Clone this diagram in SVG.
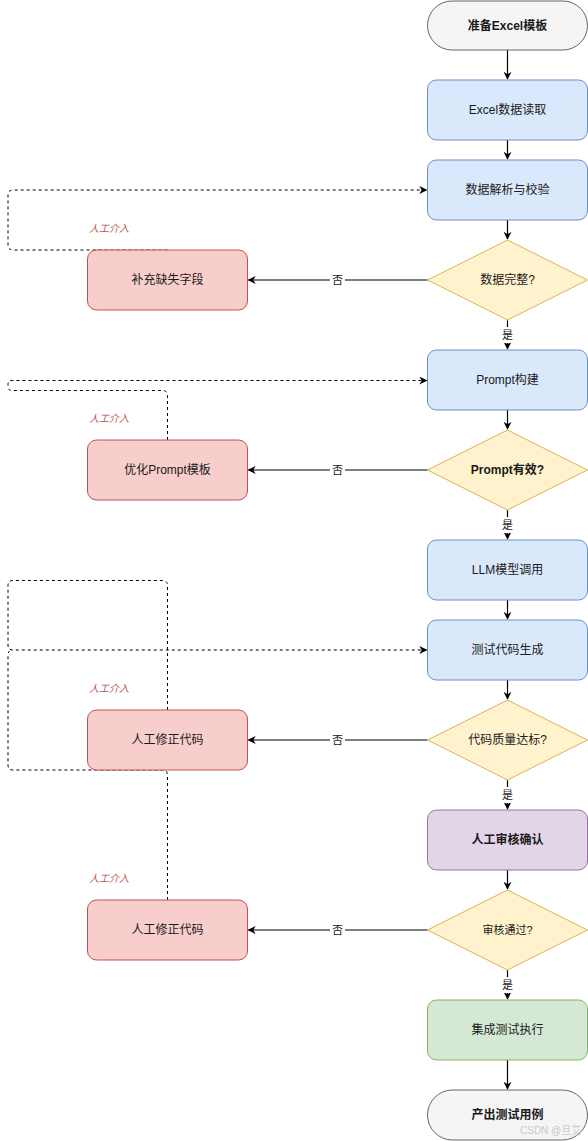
<svg xmlns="http://www.w3.org/2000/svg" width="588" height="1141" viewBox="0 0 588 1141">
<defs>
<marker id="arr" viewBox="0 0 10 10" refX="9" refY="5" markerWidth="8" markerHeight="8" markerUnits="userSpaceOnUse" orient="auto">
<path d="M0,0 L10,5 L0,10 L3,5 Z" fill="#000"/>
</marker>
<style>
text{font-family:"Liberation Sans","Noto Sans CJK SC",sans-serif;font-size:12px;fill:#1a1a1a;text-anchor:middle;dominant-baseline:central}
.b{font-weight:bold}
.term{fill:#f5f5f5;stroke:#666666}
.blue{fill:#dae8fc;stroke:#6c8ebf}
.yel{fill:#fff2cc;stroke:#d6b656}
.red{fill:#f8cecc;stroke:#b85450}
.pur{fill:#e1d5e7;stroke:#9673a6}
.grn{fill:#d5e8d4;stroke:#82b366}
.e{fill:none;stroke:#000;stroke-width:1.2}
.d{fill:none;stroke:#000;stroke-width:1;stroke-dasharray:3 3}
.lbl{font-size:11px}
.hi{font-size:10px;font-style:italic;fill:#b85450;text-anchor:start}
.wm{font-size:10px;fill:#c8c8c8;text-anchor:start}
</style>
</defs>
<rect width="588" height="1141" fill="#ffffff"/>

<g id="connectors">
<path class="e" d="M507.5,50 L507.5,79" marker-end="url(#arr)"/>
<path class="e" d="M507.5,140 L507.5,159" marker-end="url(#arr)"/>
<path class="e" d="M507.5,220 L507.5,239" marker-end="url(#arr)"/>
<path class="e" d="M507.5,320 L507.5,349" marker-end="url(#arr)"/>
<path class="e" d="M427.5,280 L248.5,280" marker-end="url(#arr)"/>
<path class="e" d="M507.5,410 L507.5,429" marker-end="url(#arr)"/>
<path class="e" d="M507.5,510 L507.5,539" marker-end="url(#arr)"/>
<path class="e" d="M427.5,470 L248.5,470" marker-end="url(#arr)"/>
<path class="e" d="M507.5,600 L507.5,619" marker-end="url(#arr)"/>
<path class="e" d="M507.5,680 L507.5,699" marker-end="url(#arr)"/>
<path class="e" d="M507.5,780 L507.5,809" marker-end="url(#arr)"/>
<path class="e" d="M427.5,740 L248.5,740" marker-end="url(#arr)"/>
<path class="e" d="M507.5,870 L507.5,889" marker-end="url(#arr)"/>
<path class="e" d="M507.5,970 L507.5,999" marker-end="url(#arr)"/>
<path class="e" d="M427.5,930 L248.5,930" marker-end="url(#arr)"/>
<path class="e" d="M507.5,1060 L507.5,1089" marker-end="url(#arr)"/>

<path class="d" d="M167.5,250 L13,250 Q8,250 8,245 L8,195 Q8,190 13,190 L426.5,190" marker-end="url(#arr)"/>
<path class="d" d="M167.5,440 L167.5,395.5 Q167.5,390.5 162.5,390.5 L12,390.5 Q8,390.5 8,386.5 L8,384.5 Q8,380.5 12,380.5 L426.5,380.5" marker-end="url(#arr)"/>
<path class="d" d="M167.5,710 L167.5,585.5 Q167.5,580.5 162.5,580.5 L13,580.5 Q8,580.5 8,585.5 L8,645 Q8,650 13,650 L426.5,650" marker-end="url(#arr)"/>
<path class="d" d="M167.5,900 L167.5,775 Q167.5,770 162.5,770 L13,770 Q8,770 8,765 L8,655 Q8,650 13,650"/>

<rect x="500" y="327" width="15" height="16" fill="#fff"/>
<text class="lbl" x="507.5" y="335">是</text>
<rect x="330" y="272" width="15" height="16" fill="#fff"/>
<text class="lbl" x="337.5" y="280">否</text>
<rect x="500" y="517" width="15" height="16" fill="#fff"/>
<text class="lbl" x="507.5" y="525">是</text>
<rect x="330" y="462" width="15" height="16" fill="#fff"/>
<text class="lbl" x="337.5" y="470">否</text>
<rect x="500" y="787" width="15" height="16" fill="#fff"/>
<text class="lbl" x="507.5" y="795">是</text>
<rect x="330" y="732" width="15" height="16" fill="#fff"/>
<text class="lbl" x="337.5" y="740">否</text>
<rect x="500" y="977" width="15" height="16" fill="#fff"/>
<text class="lbl" x="507.5" y="985">是</text>
<rect x="330" y="922" width="15" height="16" fill="#fff"/>
<text class="lbl" x="337.5" y="930">否</text>

<text class="hi" x="89" y="228">人工介入</text>
<text class="hi" x="89" y="418">人工介入</text>
<text class="hi" x="89" y="688">人工介入</text>
<text class="hi" x="89" y="878">人工介入</text>
</g>

<g id="start"><rect class="term" x="427.5" y="1" width="160" height="49" rx="24.5"/><text class="b" x="507.5" y="25.5">准备Excel模板</text></g>
<g id="read"><rect class="blue" x="427.5" y="80" width="160" height="60" rx="9"/><text x="507.5" y="110">Excel数据读取</text></g>
<g id="parse"><rect class="blue" x="427.5" y="160" width="160" height="60" rx="9"/><text x="507.5" y="190">数据解析与校验</text></g>
<g id="complete"><path class="yel" d="M507.5,240 L587.5,280 L507.5,320 L427.5,280 Z"/><text x="507.5" y="280">数据完整?</text></g>
<g id="fill"><rect class="red" x="87.5" y="250" width="160" height="60" rx="9"/><text x="167.5" y="280">补充缺失字段</text></g>
<g id="prompt"><rect class="blue" x="427.5" y="350" width="160" height="60" rx="9"/><text x="507.5" y="380">Prompt构建</text></g>
<g id="valid"><path class="yel" d="M507.5,430 L587.5,470 L507.5,510 L427.5,470 Z"/><text class="b" x="507.5" y="470">Prompt有效?</text></g>
<g id="optimize"><rect class="red" x="87.5" y="440" width="160" height="60" rx="9"/><text x="167.5" y="470">优化Prompt模板</text></g>
<g id="llm"><rect class="blue" x="427.5" y="540" width="160" height="60" rx="9"/><text x="507.5" y="570">LLM模型调用</text></g>
<g id="gen"><rect class="blue" x="427.5" y="620" width="160" height="60" rx="9"/><text x="507.5" y="650">测试代码生成</text></g>
<g id="quality"><path class="yel" d="M507.5,700 L587.5,740 L507.5,780 L427.5,740 Z"/><text x="507.5" y="740">代码质量达标?</text></g>
<g id="fix1"><rect class="red" x="87.5" y="710" width="160" height="60" rx="9"/><text x="167.5" y="740">人工修正代码</text></g>
<g id="review"><rect class="pur" x="427.5" y="810" width="160" height="60" rx="9"/><text class="b" x="507.5" y="840">人工审核确认</text></g>
<g id="pass"><path class="yel" d="M507.5,890 L587.5,930 L507.5,970 L427.5,930 Z"/><text class="lbl" x="507.5" y="930">审核通过?</text></g>
<g id="fix2"><rect class="red" x="87.5" y="900" width="160" height="60" rx="9"/><text x="167.5" y="930">人工修正代码</text></g>
<g id="integ"><rect class="grn" x="427.5" y="1000" width="160" height="60" rx="9"/><text x="507.5" y="1030">集成测试执行</text></g>
<g id="end"><rect class="term" x="427.5" y="1090" width="160" height="50" rx="25"/><text class="b" x="507.5" y="1115">产出测试用例</text></g>
<text class="wm" x="520" y="1130">CSDN @旦艾</text>
</svg>
